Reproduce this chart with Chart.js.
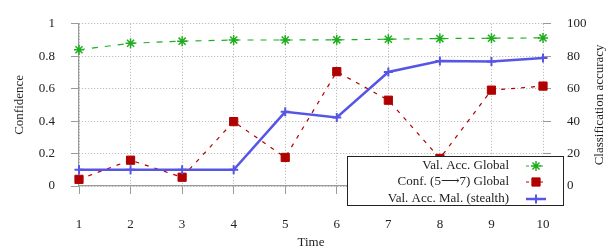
<!DOCTYPE html>
<html lang="en">
<head>
    <meta charset="UTF-8">
    <title>Confidence and classification accuracy over time</title>
    <script src="https://cdn.jsdelivr.net/npm/chart.js"></script>
    <style>
        body {
            margin: 0;
            background: #ffffff;
        }
        .chart-box {
            width: 613px;
            height: 247px;
        }
    </style>
</head>
<body>
    <div class="chart-box">
        <canvas id="timeChart"></canvas>
    </div>

    <script>
        const timeLabels = ['1', '2', '3', '4', '5', '6', '7', '8', '9', '10'];
        const valAccGlobal = [84, 88, 89.3, 90, 90, 90.1, 90.5, 90.9, 91.1, 91.3];
        const confGlobal = [0.041, 0.159, 0.054, 0.397, 0.176, 0.705, 0.529, 0.17, 0.591, 0.616];
        const valAccMal = [10, 10, 10, 10, 45.7, 42.2, 70.3, 77.1, 76.7, 78.9];

        const seriesNames = ['Val. Acc. Global', 'Conf. (5\u27F67) Global', 'Val. Acc. Mal. (stealth)'];

        const GREEN = '#1fae1f';
        const RED = '#b00000';
        const BLUE = '#5656e6';
        const GRID = '#b0b0b0';
        const AXIS = '#9a9a9a';
        const TEXT = '#222222';
        const FONT = { family: '"Liberation Serif", "DejaVu Serif", serif', size: 13 };

        // legend box drawn inside the plot, like the original figure
        const boxLegend = {
            id: 'boxLegend',
            afterDraw(chart) {
                const ctx = chart.ctx;
                const x0 = 347, y0 = 156, w = 216, h = 49;
                ctx.save();
                ctx.fillStyle = '#ffffff';
                ctx.fillRect(x0, y0, w, h);
                ctx.strokeStyle = '#222222';
                ctx.lineWidth = 1;
                ctx.strokeRect(x0 + 0.5, y0 + 0.5, w, h);

                ctx.font = '13px "Liberation Serif", "DejaVu Serif", serif';
                ctx.textAlign = 'right';
                ctx.textBaseline = 'middle';
                const rows = [166, 182, 199];
                chart.data.datasets.forEach((ds, i) => {
                    const y = rows[i];
                    ctx.fillStyle = TEXT;
                    ctx.fillText(seriesNames[i], 509, y);

                    ctx.strokeStyle = ds.borderColor;
                    ctx.lineWidth = ds.borderWidth;
                    ctx.setLineDash(ds.borderDash ? [3, 4] : []);
                    ctx.beginPath();
                    ctx.moveTo(526, y);
                    ctx.lineTo(546, y);
                    ctx.stroke();

                    ctx.setLineDash([]);
                    ctx.fillStyle = ds.pointBackgroundColor;
                    ctx.lineWidth = ds.pointBorderWidth;
                    Chart.helpers.drawPoint(ctx, {
                        pointStyle: ds.pointStyle,
                        radius: ds.pointRadius,
                        borderWidth: ds.pointBorderWidth
                    }, 536, y);
                });
                ctx.restore();
            }
        };

        // right axis title reads bottom to top in the original
        const rightTitle = {
            id: 'rightTitle',
            afterDraw(chart) {
                const ctx = chart.ctx;
                const area = chart.chartArea;
                ctx.save();
                ctx.translate(600, (area.top + area.bottom) / 2);
                ctx.rotate(-Math.PI / 2);
                ctx.font = '13px "Liberation Serif", "DejaVu Serif", serif';
                ctx.fillStyle = TEXT;
                ctx.textAlign = 'center';
                ctx.textBaseline = 'middle';
                ctx.fillText('Classification accuracy', 0, 0);
                ctx.restore();
            }
        };

        new Chart(document.getElementById('timeChart'), {
            type: 'line',
            data: {
                labels: timeLabels,
                datasets: [
                    {
                        label: seriesNames[0],
                        data: valAccGlobal,
                        yAxisID: 'y2',
                        borderColor: GREEN,
                        backgroundColor: GREEN,
                        pointBackgroundColor: GREEN,
                        borderWidth: 1.2,
                        borderDash: [6, 7],
                        pointStyle: 'star',
                        pointRadius: 5,
                        pointBorderWidth: 1.5,
                        order: 3,
                        clip: false
                    },
                    {
                        label: seriesNames[1],
                        data: confGlobal,
                        yAxisID: 'y',
                        borderColor: RED,
                        backgroundColor: RED,
                        pointBackgroundColor: RED,
                        borderWidth: 1.2,
                        borderDash: [4, 6],
                        pointStyle: 'rect',
                        pointRadius: 5.8,
                        pointBorderWidth: 1,
                        order: 2,
                        clip: false
                    },
                    {
                        label: seriesNames[2],
                        data: valAccMal,
                        yAxisID: 'y2',
                        borderColor: BLUE,
                        backgroundColor: BLUE,
                        pointBackgroundColor: BLUE,
                        borderWidth: 2.5,
                        pointStyle: 'cross',
                        pointRadius: 4.5,
                        pointBorderWidth: 2,
                        order: 1,
                        clip: false
                    }
                ]
            },
            options: {
                responsive: true,
                maintainAspectRatio: false,
                animation: false,
                layout: {
                    autoPadding: false,
                    padding: { top: 14, left: 0, right: 0, bottom: 0 }
                },
                plugins: {
                    legend: { display: false },
                    tooltip: { enabled: false }
                },
                scales: {
                    x: {
                        type: 'category',
                        offset: false,
                        afterFit: s => { s.height = 61; },
                        grid: {
                            color: GRID,
                            tickColor: AXIS,
                            tickLength: 8,
                            tickWidth: 1
                        },
                        border: { color: AXIS, width: 1.2, dash: [1, 2] },
                        ticks: { color: TEXT, font: FONT, padding: 23, maxRotation: 0 },
                        title: {
                            display: true,
                            text: 'Time',
                            color: TEXT,
                            font: { ...FONT, lineHeight: 1 },
                            padding: { top: 0, bottom: -2.5 }
                        }
                    },
                    y: {
                        position: 'left',
                        min: 0,
                        max: 1,
                        afterFit: s => { s.width = 79; },
                        grid: {
                            color: GRID,
                            tickColor: AXIS,
                            tickLength: 8,
                            tickWidth: 1
                        },
                        border: { color: AXIS, width: 1.2, dash: [1, 2] },
                        ticks: {
                            stepSize: 0.2,
                            color: TEXT,
                            font: FONT,
                            padding: 16,
                            callback: v => String(Math.round(v * 10) / 10)
                        },
                        title: {
                            display: true,
                            text: 'Confidence',
                            color: TEXT,
                            font: { ...FONT, lineHeight: 1 },
                            padding: { top: 13.5, bottom: 0 }
                        }
                    },
                    y2: {
                        position: 'right',
                        min: 0,
                        max: 100,
                        afterFit: s => { s.width = 70; },
                        grid: {
                            drawOnChartArea: false,
                            tickColor: AXIS,
                            tickLength: 8,
                            tickWidth: 1
                        },
                        border: { display: false },
                        ticks: { stepSize: 20, color: TEXT, font: FONT, padding: 16 }
                    }
                }
            },
            plugins: [boxLegend, rightTitle]
        });
    </script>
</body>
</html>
